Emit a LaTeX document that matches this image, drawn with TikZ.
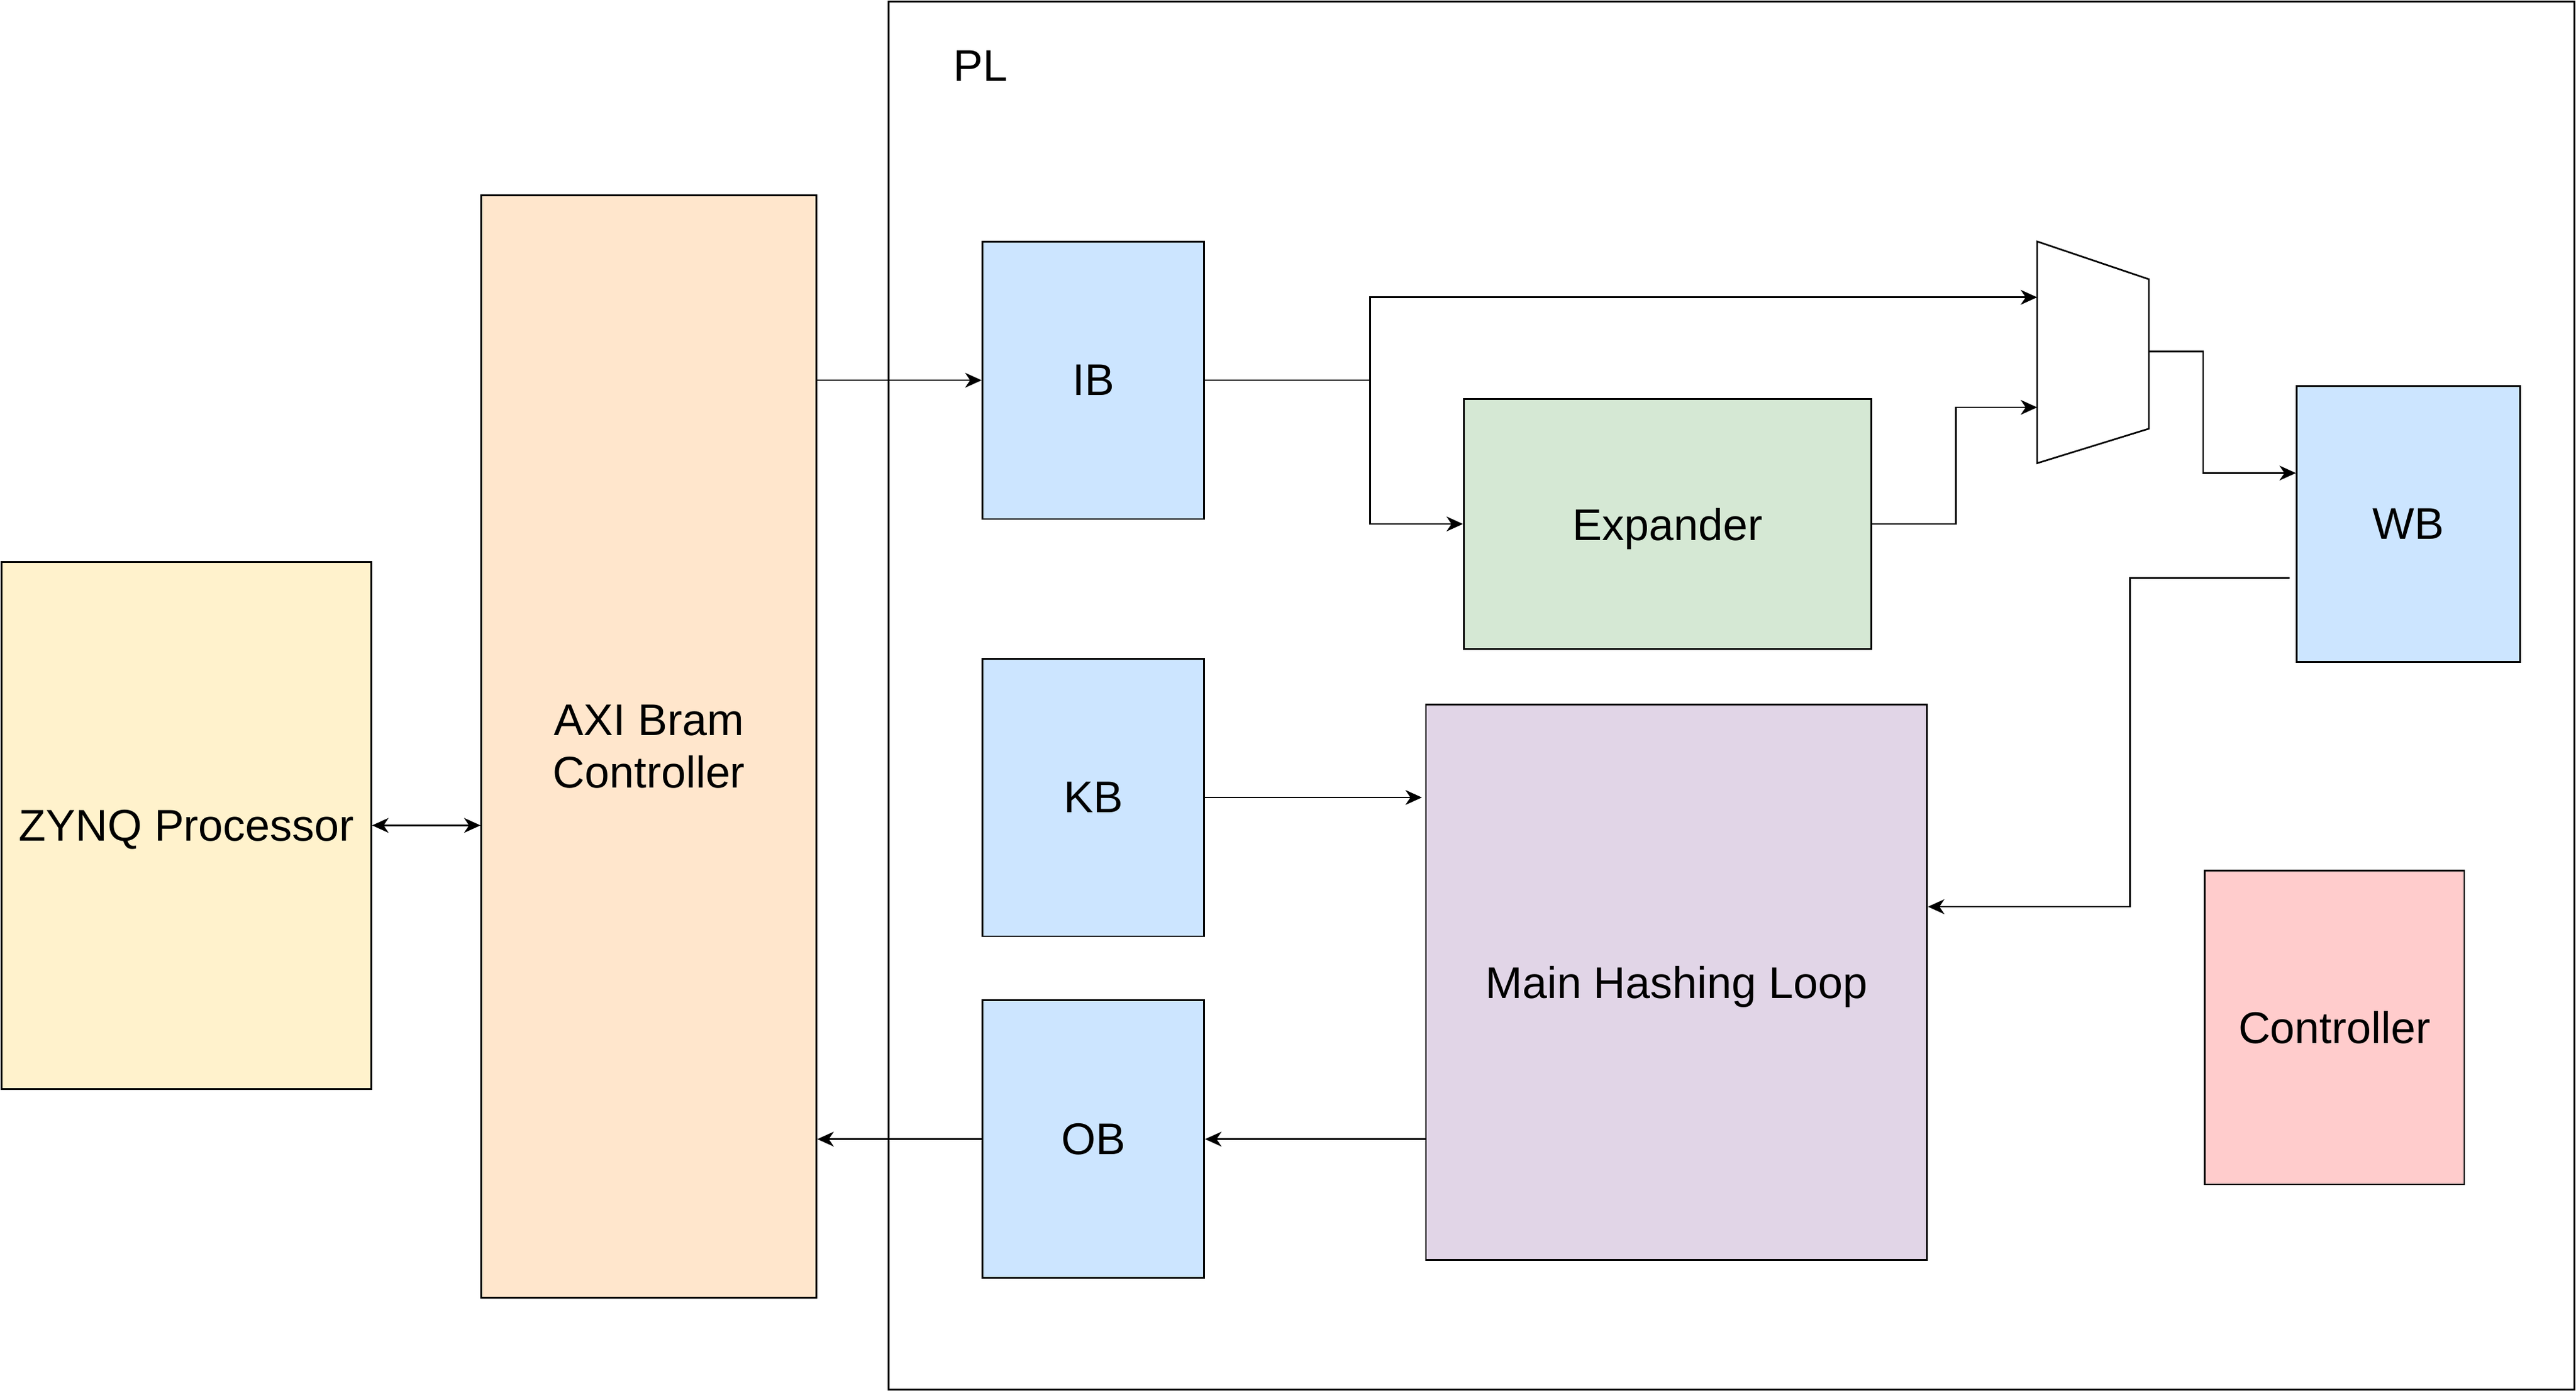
\documentclass[tikz,border=0pt]{standalone}
\usepackage{fontspec}
\setmainfont{Liberation Sans}
\usetikzlibrary{arrows.meta,calc}
\definecolor{zynqc}{HTML}{FFF2CC}
\definecolor{axic}{HTML}{FFE6CC}
\definecolor{bufc}{HTML}{CCE5FF}
\definecolor{expc}{HTML}{D5E8D4}
\definecolor{mhlc}{HTML}{E1D5E7}
\definecolor{ctlc}{HTML}{FFCCCC}
\tikzset{
  blk/.style={draw=black, line width=1pt, inner sep=0pt, align=center, text depth=0pt,
    font=\fontsize{27}{32}\selectfont},
  arr/.style={line width=1pt, -{Stealth[length=10pt,width=9pt,inset=3pt]}},
  darr/.style={line width=1pt, {Stealth[length=10pt,width=9pt,inset=3pt]}-{Stealth[length=10pt,width=9pt,inset=3pt]}},
  wire/.style={line width=1pt}
}
\begin{document}
\begin{tikzpicture}[x=1pt,y=-1pt]
\useasboundingbox (0,0) rectangle (1568,847.7);
% PL frame
\node[draw=black, line width=1pt, minimum width=1026pt, minimum height=845pt, inner sep=0pt] (PL) at (1054,423.5) {};
\node[font=\fontsize{27}{32}\selectfont, inner sep=0pt, text depth=0pt] (PLlab) at (597,40) {PL};
% blocks
\node[blk, fill=zynqc, minimum width=225pt, minimum height=321pt] (ZYNQ) at (113.5,502.5) {ZYNQ Processor};
\node[blk, fill=axic, minimum width=204pt, minimum height=671pt] (AXI) at (395,454.5) {AXI Bram\\Controller};
\node[blk, fill=bufc, minimum width=135pt, minimum height=169pt] (IB) at (665.5,231.5) {IB};
\node[blk, fill=bufc, minimum width=135pt, minimum height=169pt] (KB) at (665.5,485.5) {KB};
\node[blk, fill=bufc, minimum width=135pt, minimum height=169pt] (OB) at (665.5,693.5) {OB};
\node[blk, fill=expc, minimum width=248pt, minimum height=152pt] (EXP) at (1015,319) {Expander};
\node[blk, fill=mhlc, minimum width=305pt, minimum height=338pt] (MHL) at (1020.5,598) {Main Hashing Loop};
\node[blk, fill=bufc, minimum width=136pt, minimum height=168pt] (WB) at (1466,319) {WB};
\node[blk, fill=ctlc, minimum width=158pt, minimum height=191pt] (CTL) at (1421,625.5) {Controller};
% mux
\draw[line width=1pt, line join=miter] (1240,147) -- (1308,170) -- (1308,261) -- (1240,282) -- cycle;
\coordinate (muxin1) at (1240,181);
\coordinate (muxin2) at (1240,248);
\coordinate (muxout) at (1308,214);
\coordinate (split) at (834,231.5);
% connectors
\draw[darr] (ZYNQ.east) -- (ZYNQ.east -| AXI.west);
\draw[arr] (IB.west -| AXI.east) -- (IB.west);
\draw[wire] (IB.east) -- (split);
\draw[arr] (split) |- (muxin1);
\draw[arr] (split) |- (EXP.west);
\draw[arr] (EXP.east) -- ++(51,0) |- (muxin2);
\draw[arr] (muxout) -- ++(33,0) |- ([yshift=31pt]WB.west);
\draw[arr] ([xshift=-4pt,yshift=-33pt]WB.west) -- ++(-97,0) |- ([yshift=46pt]MHL.east);
\draw[arr] (KB.east) -- ([xshift=-2pt]MHL.west |- KB.east);
\draw[arr] (MHL.west |- OB.east) -- (OB.east);
\draw[arr] (OB.west) -- (OB.west -| AXI.east);
\end{tikzpicture}
\end{document}
